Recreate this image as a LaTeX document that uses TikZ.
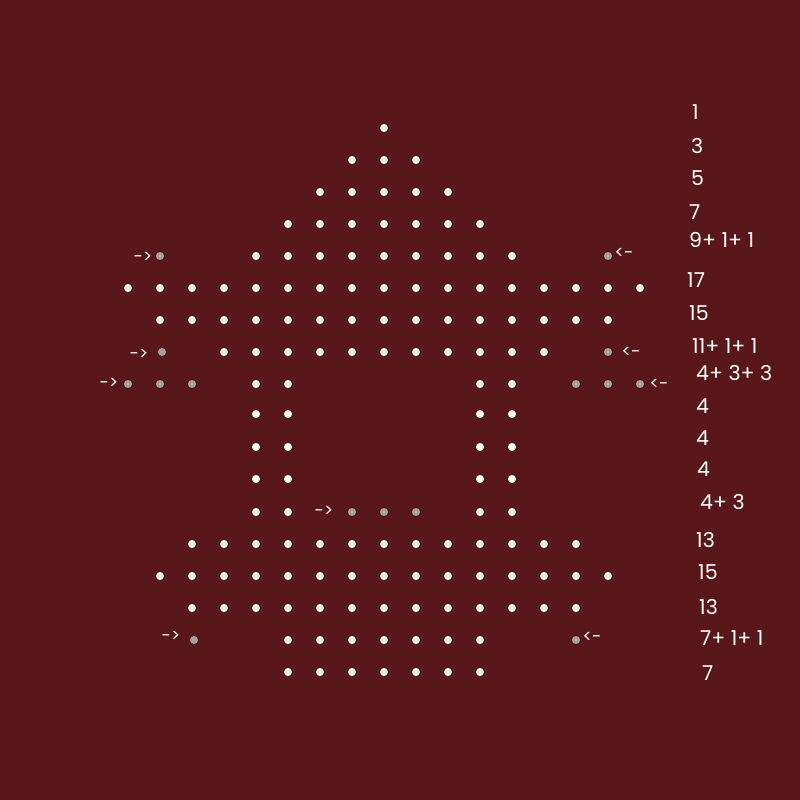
\documentclass[tikz,border=0pt]{standalone}
\usepackage{fontspec}
\setmainfont{Poppins}
\definecolor{bg}{HTML}{5A1719}
\definecolor{graydot}{HTML}{A3A3A3}
\begin{document}
\begin{tikzpicture}[x=1pt,y=-1pt,
  dot/.style={circle,fill=white,inner sep=0pt,minimum size=8pt},
  gdot/.style={circle,fill=graydot,inner sep=0pt,minimum size=8pt},
  count/.style={anchor=west,text=white,font=\fontsize{20.5}{20.5}\selectfont,inner sep=0pt},
  arrowtxt/.style={text=white,font=\fontsize{17}{17}\selectfont,inner sep=0pt}]
\fill[bg] (0,0) rectangle (800,800);
\useasboundingbox (0,0) rectangle (800,800);
% white dots
\foreach \y/\xs in {
  128/{384},
  160/{352,384,416},
  192/{320,352,384,416,448},
  224/{288,320,352,384,416,448,480},
  256/{256,288,320,352,384,416,448,480,512},
  288/{128,160,192,224,256,288,320,352,384,416,448,480,512,544,576,608,640},
  320/{160,192,224,256,288,320,352,384,416,448,480,512,544,576,608},
  352/{224,256,288,320,352,384,416,448,480,512,544},
  384/{256,288,480,512},
  414/{256,288,480,512},
  447/{256,288,480,512},
  479/{256,288,480,512},
  512/{256,288,480,512},
  544/{192,224,256,288,320,352,384,416,448,480,512,544,576},
  576/{160,192,224,256,288,320,352,384,416,448,480,512,544,576,608},
  608/{192,224,256,288,320,352,384,416,448,480,512,544,576},
  640/{288,320,352,384,416,448,480},
  672/{288,320,352,384,416,448,480}}
  {\foreach \x in \xs {\node[dot] (w\x-\y) at (\x,\y) {};}}
% gray dots
\foreach \x/\y in {160/256,608/256,162/352,608/352,128/384,160/384,192/384,
  576/384,608/384,640/384,352/512,384/512,416/512,194/640,576/640}
  {\node[gdot] (g\x-\y) at (\x,\y) {};}
% arrows
\node[arrowtxt] (a1) at (143,257) {->};
\node[arrowtxt] (a2) at (139,354) {->};
\node[arrowtxt] (a3) at (109,383) {->};
\node[arrowtxt] (a4) at (324,511) {->};
\node[arrowtxt] (a5) at (171,636) {->};
\node[arrowtxt] (b1) at (624,253) {<-};
\node[arrowtxt] (b2) at (631,352) {<-};
\node[arrowtxt] (b3) at (659,384) {<-};
\node[arrowtxt] (b4) at (592,637) {<-};
% counts
\node[count] (c1) at (692,112) {1};
\node[count] (c2) at (691,146) {3};
\node[count] (c3) at (691,178) {5};
\node[count] (c4) at (689,212) {7};
\node[count] (c5) at (689,240) {9+ 1+ 1};
\node[count] (c6) at (687,280) {17};
\node[count] (c7) at (689,313) {15};
\node[count] (c8) at (692,346) {11+ 1+ 1};
\node[count] (c9) at (696,373) {4+ 3+ 3};
\node[count] (c10) at (696,406) {4};
\node[count] (c11) at (696,438) {4};
\node[count] (c12) at (697,469) {4};
\node[count] (c13) at (700,502) {4+ 3};
\node[count] (c14) at (696,540) {13};
\node[count] (c15) at (698,572) {15};
\node[count] (c16) at (699,607) {13};
\node[count] (c17) at (700,638) {7+ 1+ 1};
\node[count] (c18) at (702,673) {7};
\end{tikzpicture}
\end{document}
